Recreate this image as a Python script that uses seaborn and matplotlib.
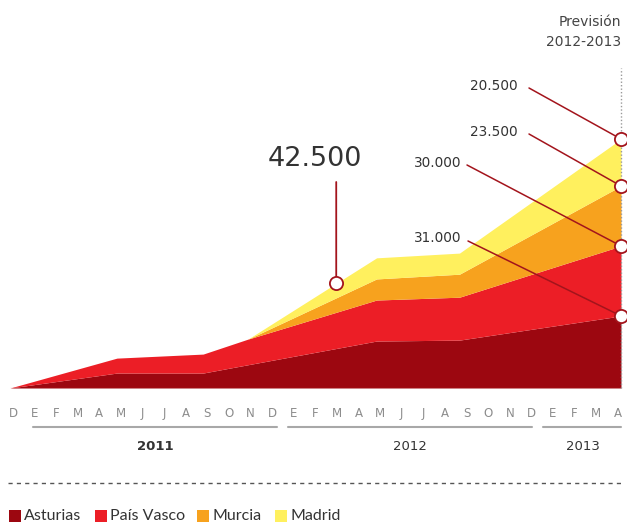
import numpy as np
import pandas as pd
import matplotlib
matplotlib.use("Agg")
import matplotlib.pyplot as plt
import seaborn as sns
from matplotlib.lines import Line2D
from matplotlib.patches import Rectangle

# ---------------- data (thousands) ----------------
month_pos = [0, 4.9, 8.85, 10.9, 16.8, 20.6, 28]          # months since Dec 2010
asturias = [0, 6.3, 6.3, 9.8, 19.8, 20.2, 30.4]
pais_vasco = [0, 6.3, 8.0, 10.8, 17.3, 18.1, 29.5]
murcia = [0, 0, 0, 0, 8.9, 9.7, 25.3]
madrid = [0, 0, 0, 0, 8.9, 8.9, 19.8]
series_names = ["Asturias", "País Vasco", "Murcia", "Madrid"]
colors = ["#9c0710", "#ec1e26", "#f7a21e", "#fff05e"]

month_labels = ["D", "E", "F", "M", "A", "M", "J", "J", "A", "S", "O", "N", "D",
                "E", "F", "M", "A", "M", "J", "J", "A", "S", "O", "N", "D",
                "E", "F", "M", "A"]
year_labels = ["2011", "2012", "2013"]
end_labels = ["31.000", "30.000", "23.500", "20.500"]
peak_label = "42.500"
peak_month = 14.95

W, H = 627, 523
K = 2.371  # px per thousand
PXM = 611 / 28  # px per month on the axis

sns.set_theme(style="white")
plt.rcParams["font.family"] = ["DejaVu Sans"]

fig = plt.figure(figsize=(W / 100, H / 100), dpi=100)
fig.patch.set_facecolor("white")


def fx(x):
    return x / W


def fy(y):
    return 1 - y / H


ax = fig.add_axes([fx(10), 135 / H, 611 / W, 388 / H])
ax.set_facecolor("none")
ax.stackplot(month_pos, asturias, pais_vasco, murcia, madrid,
             colors=colors, linewidth=0)
ax.axhline(0, color="#e0442a", lw=0.8)
ax.set_xlim(0, 28)
ax.set_ylim(0, 388 / K)
sns.despine(ax=ax, left=True, bottom=True, top=True, right=True)
ax.set_yticks([])
tick_pos = [(3 + 21.6 * i) / PXM for i in range(len(month_labels))]
ax.set_xticks(tick_pos)
ax.set_xticklabels(month_labels, fontsize=8.5, color="#8c8c8c")
ax.tick_params(axis="x", length=0, pad=14)
ax.grid(False)

# dotted forecast line
ax.vlines(28, 0, (388 - 68) / K, colors="#9a9a9a", linestyles=(0, (1, 1.5)),
          lw=1, clip_on=False, zorder=1)

# circles
cum = np.cumsum(np.array([asturias, pais_vasco, murcia, madrid]), axis=0)
end_tops = cum[:, -1]
total = cum[-1]
peak_y = np.interp(peak_month, month_pos, total)
pts = pd.DataFrame({"x": [28] * 4 + [peak_month],
                    "y": list(end_tops) + [peak_y]})

line_col = "#a3141c"
anchors = [(468, 241), (467, 165), (529, 134), (529, 88)]
for (axp, ayp), yv in zip(anchors, end_tops):
    ax.annotate("", xy=(28, yv), xycoords="data",
                xytext=(axp, H - ayp), textcoords="figure pixels",
                arrowprops=dict(arrowstyle="-", color=line_col, lw=1.1,
                                shrinkA=0, shrinkB=0), annotation_clip=False)
ax.annotate("", xy=(peak_month, peak_y), xycoords="data",
            xytext=(peak_month, (388 - 182) / K), textcoords="data",
            arrowprops=dict(arrowstyle="-", color=line_col, lw=1.3,
                            shrinkA=0, shrinkB=0), annotation_clip=False)

sns.scatterplot(data=pts, x="x", y="y", ax=ax, s=90, color="white",
                edgecolor=line_col, linewidth=1.3, zorder=5, clip_on=False,
                legend=False)
ax.set_xlabel("")
ax.set_ylabel("")

# value labels
txt_col = "#333333"
label_pos = [(461, 238), (461, 163), (518, 132), (518, 86)]
for (lx, ly), t in zip(label_pos, end_labels):
    fig.text(fx(lx), fy(ly), t, ha="right", va="center", fontsize=9.8,
             color=txt_col)
fig.text(fx(315), fy(159), peak_label, ha="center", va="center", fontsize=19.5,
         color=txt_col)

# header
fig.text(fx(621), fy(22), "Previsión", ha="right", va="center", fontsize=10,
         color="#444444")
fig.text(fx(621), fy(42), "2012-2013", ha="right", va="center", fontsize=10,
         color="#444444")

# year underlines and labels
year_spans = [(33, 277), (288, 532), (543, 621)]
year_centers = [155, 410, 583]
for (x0, x1), xc, yl in zip(year_spans, year_centers, year_labels):
    fig.add_artist(Line2D([fx(x0), fx(x1)], [fy(427), fy(427)],
                          color="#a8a8a8", lw=1.5))
    fig.text(fx(xc), fy(446), yl, ha="center", va="center", fontsize=9.5,
             color=txt_col, fontweight="bold" if yl == "2011" else "normal")

# dashed separator
fig.add_artist(Line2D([fx(8), fx(621)], [fy(483), fy(483)], color="#555555",
                      lw=1, linestyle=(0, (3, 3))))

# legend
leg_x = [9, 95, 197, 275]
for lx, name, c in zip(leg_x, series_names, colors):
    fig.add_artist(Rectangle((fx(lx), fy(522)), 12 / W, 12 / H,
                             transform=fig.transFigure, color=c, lw=0))
    fig.text(fx(lx + 15), fy(516), name, ha="left", va="center",
             fontsize=11.5, color=txt_col, family=["Lato", "DejaVu Sans"])

fig.savefig("out.png", dpi=100)
